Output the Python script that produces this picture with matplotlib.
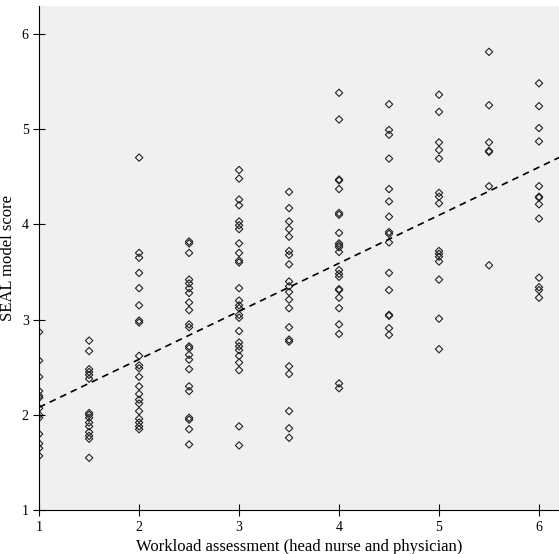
import matplotlib.pyplot as plt
import numpy as np

plt.rcParams['font.family'] = ['Liberation Serif', 'DejaVu Serif']

# SEAL score by workload assessment
groups = {
    1.0: [2.87, 2.57, 2.4, 2.25, 2.2, 2.18, 2.07, 2.0, 1.97, 1.8, 1.7, 1.65, 1.57],
    1.5: [2.78, 2.67, 2.48, 2.45, 2.42, 2.38, 2.02, 2.0, 1.97, 1.92, 1.88, 1.82, 1.78, 1.75, 1.55],
    2.0: [4.7, 3.7, 3.65, 3.49, 3.33, 3.15, 2.99, 2.97, 2.62, 2.52, 2.49, 2.4, 2.3, 2.22,
          2.16, 2.12, 2.04, 1.96, 1.92, 1.88, 1.85],
    2.5: [3.82, 3.80, 3.7, 3.42, 3.38, 3.33, 3.28, 3.18, 3.1, 2.95, 2.92, 2.72, 2.7, 2.63,
          2.58, 2.48, 2.3, 2.25, 1.97, 1.95, 1.85, 1.69],
    3.0: [4.57, 4.48, 4.26, 4.2, 4.03, 3.99, 3.95, 3.8, 3.7, 3.62, 3.6, 3.33, 3.2, 3.15,
          3.12, 3.05, 3.02, 2.88, 2.76, 2.72, 2.68, 2.62, 2.55, 2.47, 1.88, 1.68],
    3.5: [4.34, 4.17, 4.03, 3.95, 3.87, 3.72, 3.68, 3.58, 3.40, 3.35, 3.29, 3.21, 3.12,
          2.92, 2.79, 2.77, 2.51, 2.43, 2.04, 1.86, 1.76],
    4.0: [5.38, 5.10, 4.47, 4.46, 4.37, 4.12, 4.10, 3.91, 3.80, 3.78, 3.76, 3.71, 3.52,
          3.48, 3.45, 3.32, 3.31, 3.23, 3.12, 2.95, 2.85, 2.33, 2.28],
    4.5: [5.26, 4.99, 4.94, 4.69, 4.37, 4.24, 4.08, 3.92, 3.90, 3.81, 3.49, 3.31, 3.05,
          3.04, 2.91, 2.84],
    5.0: [5.36, 5.18, 4.86, 4.78, 4.69, 4.33, 4.29, 4.22, 3.72, 3.69, 3.66, 3.61, 3.42,
          3.01, 2.69],
    5.5: [5.81, 5.25, 4.86, 4.77, 4.76, 4.40, 3.57],
    6.0: [5.48, 5.24, 5.01, 4.87, 4.40, 4.29, 4.28, 4.21, 4.06, 3.44, 3.34, 3.31, 3.23],
}
fit_intercept = 1.576
fit_slope = 0.504

xs = np.concatenate([[k] * len(v) for k, v in groups.items()])
ys = np.concatenate([v for v in groups.values()])

fig = plt.figure(figsize=(5.59, 5.54), dpi=100)
ax = fig.add_axes([0.07, 0.079, 0.93, 0.91])
ax.set_facecolor('#f0f0f0')
ax.scatter(xs, ys, marker='D', s=14, facecolors='none', edgecolors='#222222', linewidths=0.8)
lx = np.array([1.0, 6.2])
ax.plot(lx, fit_intercept + fit_slope * lx, 'k--', lw=1.2, dashes=(4, 3))

ax.set_xlim(1, 6.2)
ax.set_ylim(1, 6.29)
ax.set_xticks(range(1, 7))
ax.set_yticks(range(1, 7))
ax.tick_params(direction='inout', length=8, labelsize=10)
ax.set_xlabel('Workload assessment (head nurse and physician)', fontsize=12)
ax.set_ylabel('SEAL model score', fontsize=12)
for s in ['top', 'right']:
    ax.spines[s].set_visible(False)
fig.savefig('out.png')
